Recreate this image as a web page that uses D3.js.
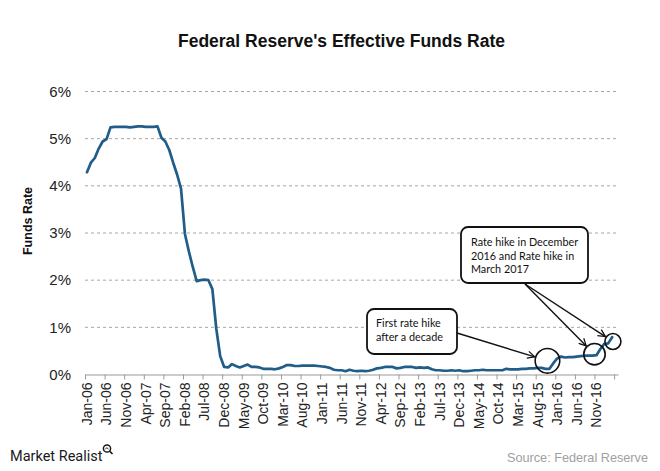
<!DOCTYPE html>
<html>
<head>
<meta charset="utf-8">
<script src="https://cdn.jsdelivr.net/npm/d3@7/dist/d3.min.js"></script>
<style>
  html, body { margin: 0; padding: 0; background: #fff; }
  svg { display: block; }
</style>
</head>
<body>
<svg id="chart" width="660" height="471"></svg>
<script>
// ---------------- DATA ----------------
// Monthly effective federal funds rate (%), Jan-06 .. Mar-17
const rates2006 = [4.29, 4.49, 4.59, 4.79, 4.94, 4.99, 5.24, 5.25, 5.25, 5.25, 5.25, 5.24];
const rates2007 = [5.25, 5.26, 5.26, 5.25, 5.25, 5.25, 5.26, 5.02, 4.94, 4.76, 4.49, 4.24];
const rates2008 = [3.94, 2.98, 2.61, 2.28, 1.98, 2.00, 2.01, 2.00, 1.81, 0.97, 0.39, 0.16];
const rates2009 = [0.15, 0.22, 0.18, 0.15, 0.18, 0.21, 0.16, 0.16, 0.15, 0.12, 0.12, 0.12];
const rates2010 = [0.11, 0.13, 0.16, 0.20, 0.20, 0.18, 0.18, 0.19, 0.19, 0.19, 0.19, 0.18];
const rates2011 = [0.17, 0.16, 0.14, 0.10, 0.09, 0.09, 0.07, 0.10, 0.08, 0.07, 0.08, 0.07];
const rates2012 = [0.08, 0.10, 0.13, 0.14, 0.16, 0.16, 0.16, 0.13, 0.14, 0.16, 0.16, 0.16];
const rates2013 = [0.14, 0.15, 0.14, 0.15, 0.11, 0.09, 0.09, 0.08, 0.08, 0.09, 0.08, 0.09];
const rates2014 = [0.07, 0.07, 0.08, 0.09, 0.09, 0.10, 0.09, 0.09, 0.09, 0.09, 0.09, 0.12];
const rates2015 = [0.11, 0.11, 0.11, 0.12, 0.12, 0.13, 0.13, 0.14, 0.14, 0.12, 0.12, 0.24];
const rates2016 = [0.34, 0.38, 0.36, 0.37, 0.37, 0.38, 0.39, 0.40, 0.40, 0.40, 0.41, 0.54];
const rates2017 = [0.65, 0.66, 0.79];

const rates = [].concat(rates2006, rates2007, rates2008, rates2009, rates2010, rates2011,
  rates2012, rates2013, rates2014, rates2015, rates2016, rates2017);

// category tick labels, one every five months starting Jan-06
const tickLabels = ["Jan-06","Jun-06","Nov-06","Apr-07","Sep-07","Feb-08","Jul-08","Dec-08",
  "May-09","Oct-09","Mar-10","Aug-10","Jan-11","Jun-11","Nov-11","Apr-12","Sep-12","Feb-13",
  "Jul-13","Dec-13","May-14","Oct-14","Mar-15","Aug-15","Jan-16","Jun-16","Nov-16"];
const tickStep = 5;

const yTicks = [0, 1, 2, 3, 4, 5, 6];

const titleText = "Federal Reserve's Effective Funds Rate";
const yAxisTitle = "Funds Rate";
const note1Lines = ["First rate hike", "after a decade"];
const note2Lines = ["Rate hike in December", "2016 and Rate hike in", "March 2017"];
const sourceText = "Source: Federal Reserve";
const brandText = "Market Realist";

// ---------------- CHART ----------------
const svg = d3.select("#chart");
const FONT = "'Liberation Sans', Arial, sans-serif";
const NOTE_FONT = "Lato, 'Open Sans', sans-serif";

const nCat = rates.length; // 135 months
const x = d3.scaleLinear().domain([0, nCat + 1]).range([85, 618]); // categories between tick marks, axis to Apr-17
const y = d3.scaleLinear().domain([0, 6]).range([374.5, 91.5]);

// gridlines
svg.append("g")
  .selectAll("line")
  .data(yTicks.filter(d => d > 0))
  .join("line")
  .attr("x1", x(0)).attr("x2", x(nCat + 1))
  .attr("y1", d => y(d)).attr("y2", d => y(d))
  .attr("stroke", "#a6a6a6")
  .attr("stroke-width", 1)
  .attr("stroke-dasharray", "3,3");

// y axis labels
const yAxis = svg.append("g")
  .attr("transform", `translate(${x(0)},0)`)
  .call(d3.axisLeft(y).tickValues(yTicks).tickFormat(d => d + "%").tickSize(0).tickPadding(14));
yAxis.select(".domain").remove();
yAxis.selectAll("text")
  .attr("font-family", FONT).attr("font-size", 15).attr("fill", "#222");

// x axis line + tick marks
const xAxis = svg.append("g")
  .attr("transform", `translate(0,${y(0)})`)
  .call(d3.axisBottom(x)
    .tickValues(d3.range(0, nCat + 2, tickStep))
    .tickFormat("")
    .tickSizeInner(5).tickSizeOuter(0));
xAxis.select(".domain").attr("stroke", "#9a9a9a");
xAxis.selectAll(".tick line").attr("stroke", "#9a9a9a");

// x axis labels (centered on the category)
svg.append("g")
  .selectAll("text")
  .data(tickLabels)
  .join("text")
  .attr("transform", (d, i) => `translate(${x(i * tickStep + 0.5)},${y(0) + 8}) rotate(-90)`)
  .attr("text-anchor", "end")
  .attr("dy", "0.35em")
  .attr("font-family", FONT).attr("font-size", 14).attr("fill", "#222")
  .text(d => d);

// data line
const line = d3.line()
  .x((d, i) => x(i + 0.5))
  .y(d => y(d));
svg.append("path")
  .datum(rates)
  .attr("d", line)
  .attr("fill", "none")
  .attr("stroke", "#215d89")
  .attr("stroke-width", 2.7)
  .attr("stroke-linejoin", "round")
  .attr("stroke-linecap", "round");

// title
svg.append("text")
  .attr("x", 341.5).attr("y", 47)
  .attr("text-anchor", "middle")
  .attr("font-family", FONT).attr("font-weight", "bold").attr("font-size", 17.5)
  .attr("fill", "#111")
  .text(titleText);

// y axis title
svg.append("text")
  .attr("transform", "translate(32,221) rotate(-90)")
  .attr("text-anchor", "middle")
  .attr("font-family", FONT).attr("font-weight", "bold").attr("font-size", 12.5)
  .attr("fill", "#111")
  .text(yAxisTitle);

// ---------------- ANNOTATIONS ----------------
const defs = svg.append("defs");
defs.append("marker")
  .attr("id", "arrow")
  .attr("viewBox", "0 0 10 10")
  .attr("refX", 9).attr("refY", 5)
  .attr("markerWidth", 9).attr("markerHeight", 9)
  .attr("markerUnits", "userSpaceOnUse")
  .attr("orient", "auto")
  .append("path")
  .attr("d", "M1,1 L9,5 L1,9")
  .attr("fill", "none")
  .attr("stroke", "#111")
  .attr("stroke-width", 1.4);

const circles = [
  { cx: x(118.0), cy: y(0.29), r: 12.3 },
  { cx: x(130.0), cy: y(0.43), r: 10.7 },
  { cx: x(134.7), cy: y(0.70), r: 8 }
];

const notes = svg.append("g");

function arrowTo(sx, sy, c) {
  const dx = c.cx - sx, dy = c.cy - sy;
  const d = Math.hypot(dx, dy);
  const ex = c.cx - dx / d * (c.r + 1);
  const ey = c.cy - dy / d * (c.r + 1);
  notes.append("line")
    .attr("x1", sx).attr("y1", sy).attr("x2", ex).attr("y2", ey)
    .attr("stroke", "#111").attr("stroke-width", 1.4)
    .attr("marker-end", "url(#arrow)");
}

arrowTo(457, 333, circles[0]);
arrowTo(525, 284, circles[1]);
arrowTo(525, 284, circles[2]);

notes.selectAll("circle")
  .data(circles)
  .join("circle")
  .attr("cx", d => d.cx).attr("cy", d => d.cy).attr("r", d => d.r)
  .attr("fill", "none").attr("stroke", "#111").attr("stroke-width", 1.6);

function noteBox(bx, by, bw, bh, lines, tx, ty, lh) {
  notes.append("rect")
    .attr("x", bx).attr("y", by).attr("width", bw).attr("height", bh)
    .attr("rx", 7).attr("ry", 7)
    .attr("fill", "#fff").attr("stroke", "#111").attr("stroke-width", 1.8);
  notes.append("g").selectAll("text")
    .data(lines)
    .join("text")
    .attr("x", tx).attr("y", (d, i) => ty + i * lh)
    .attr("font-family", NOTE_FONT).attr("font-size", 10.8)
    .attr("fill", "#111")
    .text(d => d);
}

noteBox(367, 309, 90, 45, note1Lines, 376, 327, 14);
noteBox(461, 227, 127, 56, note2Lines, 471, 246, 13.5);

// ---------------- FOOTER ----------------
const brand = svg.append("g");
brand.append("text")
  .attr("x", 10).attr("y", 461)
  .attr("font-family", "'Roboto', 'Liberation Sans', sans-serif").attr("font-size", 14.5)
  .attr("fill", "#1a1a1a")
  .text(brandText);
// magnifier icon
brand.append("circle").attr("cx", 107).attr("cy", 448.5).attr("r", 3.6)
  .attr("fill", "none").attr("stroke", "#1a1a1a").attr("stroke-width", 1.5);
brand.append("line").attr("x1", 109.6).attr("y1", 451.1).attr("x2", 112.5).attr("y2", 454)
  .attr("stroke", "#1a1a1a").attr("stroke-width", 1.6);
brand.append("path").attr("d", "M105.3,449.4 L106.7,447.6 L108.5,449.2")
  .attr("fill", "none").attr("stroke", "#1a1a1a").attr("stroke-width", 0.9);

svg.append("text")
  .attr("x", 648).attr("y", 462)
  .attr("text-anchor", "end")
  .attr("font-family", FONT).attr("font-size", 12.7)
  .attr("fill", "#a0a0a0")
  .text(sourceText);
</script>
</body>
</html>
